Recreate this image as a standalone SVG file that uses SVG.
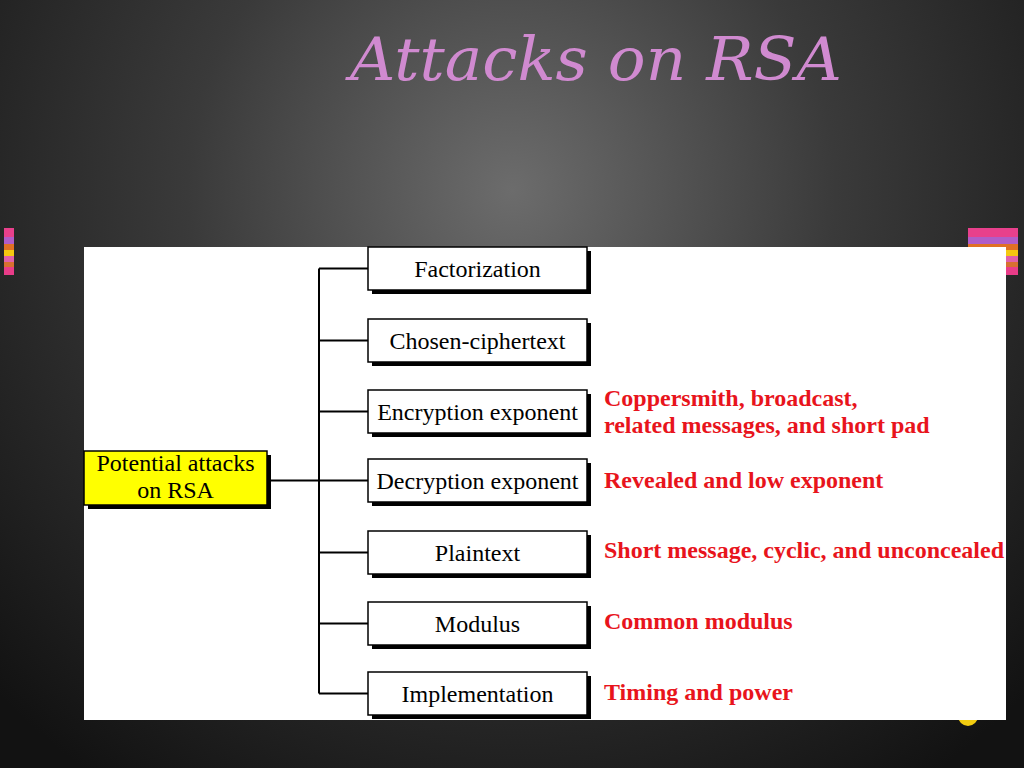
<svg xmlns="http://www.w3.org/2000/svg" width="1024" height="768" viewBox="0 0 1024 768">
<defs>
<radialGradient id="bg" cx="512" cy="190" r="720" gradientUnits="userSpaceOnUse">
<stop offset="0" stop-color="#6c6c6c"/>
<stop offset="0.45" stop-color="#3a3a3a"/>
<stop offset="1" stop-color="#121212"/>
</radialGradient>
<linearGradient id="stripeL" x1="0" y1="0" x2="0" y2="1">
<stop offset="0" stop-color="#e8408c"/>
<stop offset="0.2" stop-color="#e8408c"/>
<stop offset="0.2" stop-color="#b05cc8"/>
<stop offset="0.33" stop-color="#b05cc8"/>
<stop offset="0.33" stop-color="#e07024"/>
<stop offset="0.46" stop-color="#e07024"/>
<stop offset="0.46" stop-color="#f4c810"/>
<stop offset="0.6" stop-color="#f4c810"/>
<stop offset="0.6" stop-color="#e060a8"/>
<stop offset="0.72" stop-color="#e060a8"/>
<stop offset="0.72" stop-color="#d87030"/>
<stop offset="0.82" stop-color="#d87030"/>
<stop offset="0.82" stop-color="#e83c88"/>
<stop offset="1" stop-color="#e83c88"/>
</linearGradient>
</defs>
<style>
.title{font-family:"DejaVu Serif","Liberation Serif",serif;font-style:italic;font-size:60px;fill:#d08ad0}
.box{fill:#ffffff;stroke:#000;stroke-width:1.5}
.shadow{fill:#000}
.root{fill:#ffff00;stroke:#000;stroke-width:1.5}
.lbl{font-family:"Liberation Serif","Times New Roman",serif;font-size:24px;fill:#000;text-anchor:middle}
.note{font-family:"Liberation Serif","Times New Roman",serif;font-size:24px;font-weight:bold;fill:#e8141c}
.conn{stroke:#000;stroke-width:2;fill:none}
</style>
<rect x="0" y="0" width="1024" height="768" fill="url(#bg)"/>
<text class="title" x="350" y="80" textLength="492" lengthAdjust="spacingAndGlyphs">Attacks on RSA</text>
<rect x="4" y="228" width="10" height="47" fill="url(#stripeL)"/>
<rect x="968" y="228" width="50" height="47" fill="url(#stripeL)"/>
<circle cx="968" cy="716" r="10" fill="#f2cc10"/>
<rect x="84" y="247" width="922" height="473" fill="#ffffff"/>

<g id="connectors">
<line class="conn" x1="319" y1="268.5" x2="319" y2="693.5"/>
<line class="conn" x1="267" y1="480.5" x2="368" y2="480.5"/>
<line class="conn" x1="319" y1="268.5" x2="368" y2="268.5"/>
<line class="conn" x1="319" y1="340.5" x2="368" y2="340.5"/>
<line class="conn" x1="319" y1="411.5" x2="368" y2="411.5"/>
<line class="conn" x1="319" y1="552.5" x2="368" y2="552.5"/>
<line class="conn" x1="319" y1="623.5" x2="368" y2="623.5"/>
<line class="conn" x1="319" y1="693.5" x2="368" y2="693.5"/>
</g>

<g id="root">
<rect class="shadow" x="88" y="455" width="183" height="54"/>
<rect class="root" x="84" y="451" width="183" height="54"/>
<text class="lbl" x="175.5" y="471">Potential attacks</text>
<text class="lbl" x="175.5" y="498">on RSA</text>
</g>

<g id="factorization">
<rect class="shadow" x="372" y="251" width="219" height="43"/>
<rect class="box" x="368" y="247" width="219" height="43"/>
<text class="lbl" x="477.5" y="277">Factorization</text>
</g>
<g id="chosen">
<rect class="shadow" x="372" y="323" width="219" height="43"/>
<rect class="box" x="368" y="319" width="219" height="43"/>
<text class="lbl" x="477.5" y="349">Chosen-ciphertext</text>
</g>
<g id="encryption">
<rect class="shadow" x="372" y="394" width="219" height="43"/>
<rect class="box" x="368" y="390" width="219" height="43"/>
<text class="lbl" x="477.5" y="420">Encryption exponent</text>
<text class="note" x="604" y="406">Coppersmith, broadcast,</text>
<text class="note" x="604" y="433">related messages, and short pad</text>
</g>
<g id="decryption">
<rect class="shadow" x="372" y="463" width="219" height="43"/>
<rect class="box" x="368" y="459" width="219" height="43"/>
<text class="lbl" x="477.5" y="489">Decryption exponent</text>
<text class="note" x="604" y="488">Revealed and low exponent</text>
</g>
<g id="plaintext">
<rect class="shadow" x="372" y="535" width="219" height="43"/>
<rect class="box" x="368" y="531" width="219" height="43"/>
<text class="lbl" x="477.5" y="561">Plaintext</text>
<text class="note" x="604" y="558">Short message, cyclic, and unconcealed</text>
</g>
<g id="modulus">
<rect class="shadow" x="372" y="606" width="219" height="43"/>
<rect class="box" x="368" y="602" width="219" height="43"/>
<text class="lbl" x="477.5" y="632">Modulus</text>
<text class="note" x="604" y="629">Common modulus</text>
</g>
<g id="implementation">
<rect class="shadow" x="372" y="676" width="219" height="43"/>
<rect class="box" x="368" y="672" width="219" height="43"/>
<text class="lbl" x="477.5" y="702">Implementation</text>
<text class="note" x="604" y="700">Timing and power</text>
</g>
</svg>
